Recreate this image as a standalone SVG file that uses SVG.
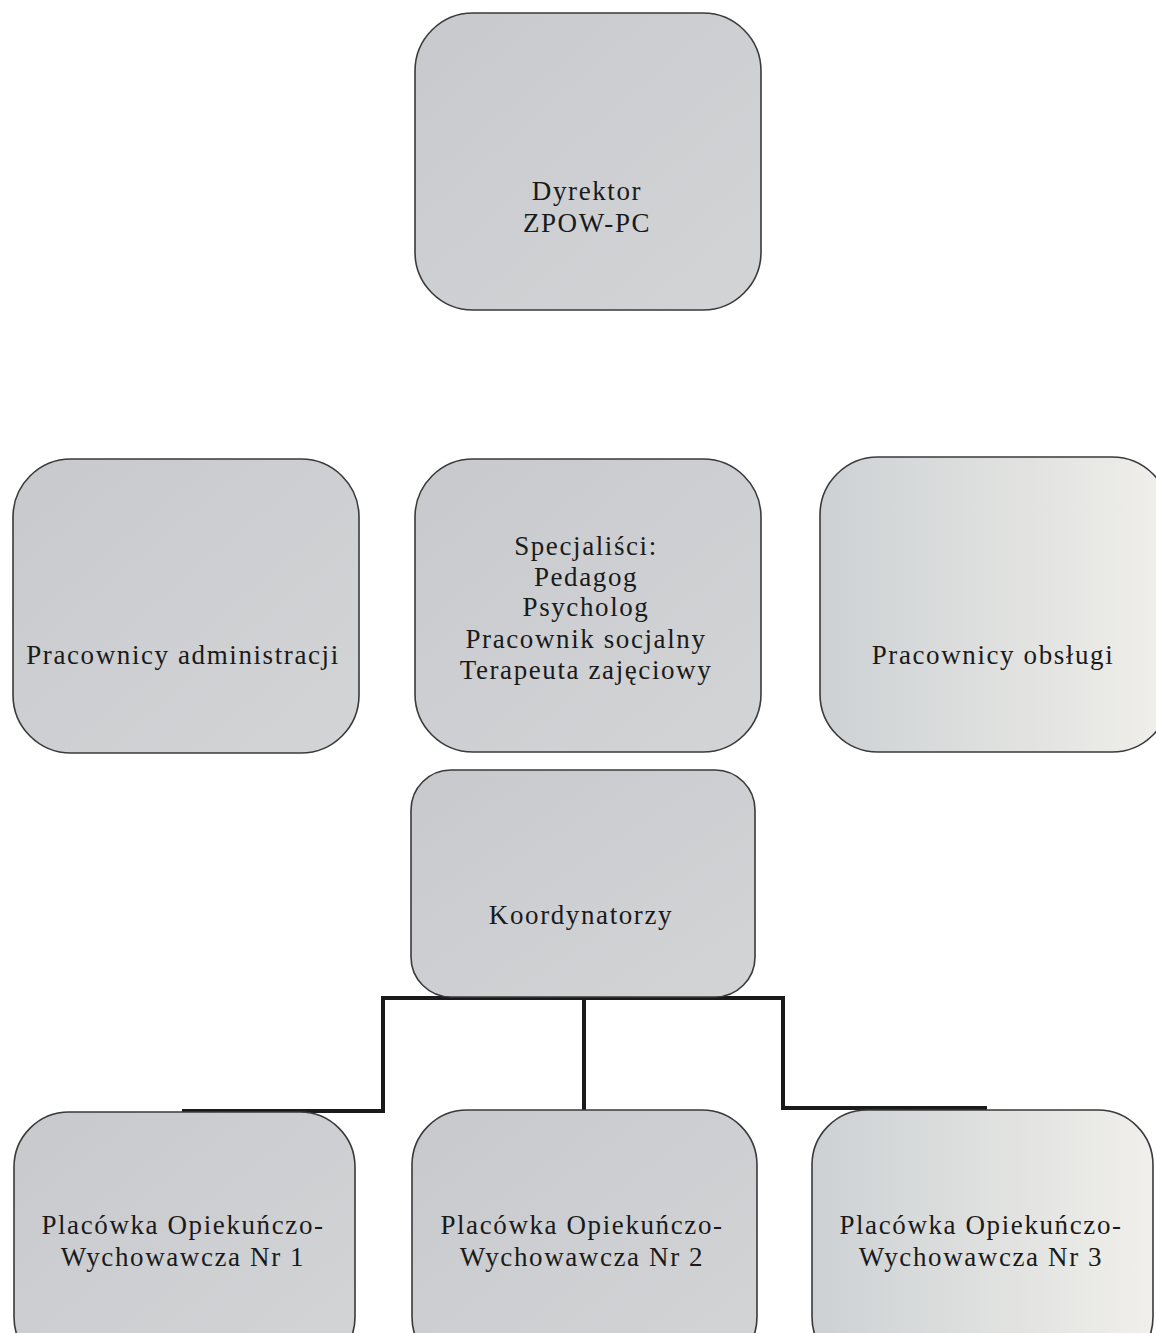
<svg xmlns="http://www.w3.org/2000/svg" width="1156" height="1333" viewBox="0 0 1156 1333">
<style>
.box{stroke:#3a3a3a;stroke-width:1.6;fill:url(#g1)}
.lt{fill:url(#g2)}
.t{font-family:"Liberation Serif","Times New Roman",serif;font-size:27px;fill:#1a1a1a;text-anchor:middle;letter-spacing:1.6px}
.c{fill:none;stroke:#1a1a1a;stroke-width:4;stroke-linejoin:miter}
</style>
<defs>
<linearGradient id="g1" x1="0" y1="0" x2="1" y2="1">
<stop offset="0" stop-color="#c7c9cd"/>
<stop offset="0.5" stop-color="#cdcfd2"/>
<stop offset="1" stop-color="#d3d4d5"/>
</linearGradient>
<linearGradient id="g2" x1="0" y1="0" x2="1" y2="0">
<stop offset="0" stop-color="#cdd1d4"/>
<stop offset="0.6" stop-color="#e2e3e1"/>
<stop offset="1" stop-color="#f0efeb"/>
</linearGradient>
</defs>
<rect width="1156" height="1333" fill="#ffffff"/>
<g id="connectors">
<polyline class="c" points="182,1111 383,1111 383,998 783,998 783,1108 987,1108"/>
<line class="c" x1="584" y1="998" x2="584" y2="1111"/>
</g>
<g id="dyrektor">
<rect class="box" x="415" y="13" width="346" height="297" rx="58"/>
<text class="t" x="587" y="200">Dyrektor</text>
<text class="t" x="587" y="232">ZPOW-PC</text>
</g>
<g id="administracja">
<rect class="box" x="13" y="459" width="346" height="294" rx="58"/>
<text class="t" x="183" y="664">Pracownicy administracji</text>
</g>
<g id="specjalisci">
<rect class="box" x="415" y="459" width="346" height="293" rx="58"/>
<text class="t" x="586" y="555">Specjaliści:</text>
<text class="t" x="586" y="586">Pedagog</text>
<text class="t" x="586" y="616">Psycholog</text>
<text class="t" x="586" y="648">Pracownik socjalny</text>
<text class="t" x="586" y="679">Terapeuta zajęciowy</text>
</g>
<g id="obslugi">
<rect class="box lt" x="820" y="457" width="350" height="295" rx="58"/>
<text class="t" x="993" y="664">Pracownicy obsługi</text>
</g>
<g id="koordynatorzy">
<rect class="box" x="411" y="770" width="344" height="227" rx="40"/>
<text class="t" x="581" y="924">Koordynatorzy</text>
</g>
<g id="placowka1">
<rect class="box" x="14" y="1112" width="341" height="260" rx="55"/>
<text class="t" x="183" y="1234">Placówka Opiekuńczo-</text>
<text class="t" x="183" y="1266">Wychowawcza Nr 1</text>
</g>
<g id="placowka2">
<rect class="box" x="412" y="1110" width="345" height="262" rx="55"/>
<text class="t" x="582" y="1234">Placówka Opiekuńczo-</text>
<text class="t" x="582" y="1266">Wychowawcza Nr 2</text>
</g>
<g id="placowka3">
<rect class="box lt" x="812" y="1110" width="341" height="262" rx="55"/>
<text class="t" x="981" y="1234">Placówka Opiekuńczo-</text>
<text class="t" x="981" y="1266">Wychowawcza Nr 3</text>
</g>
</svg>
